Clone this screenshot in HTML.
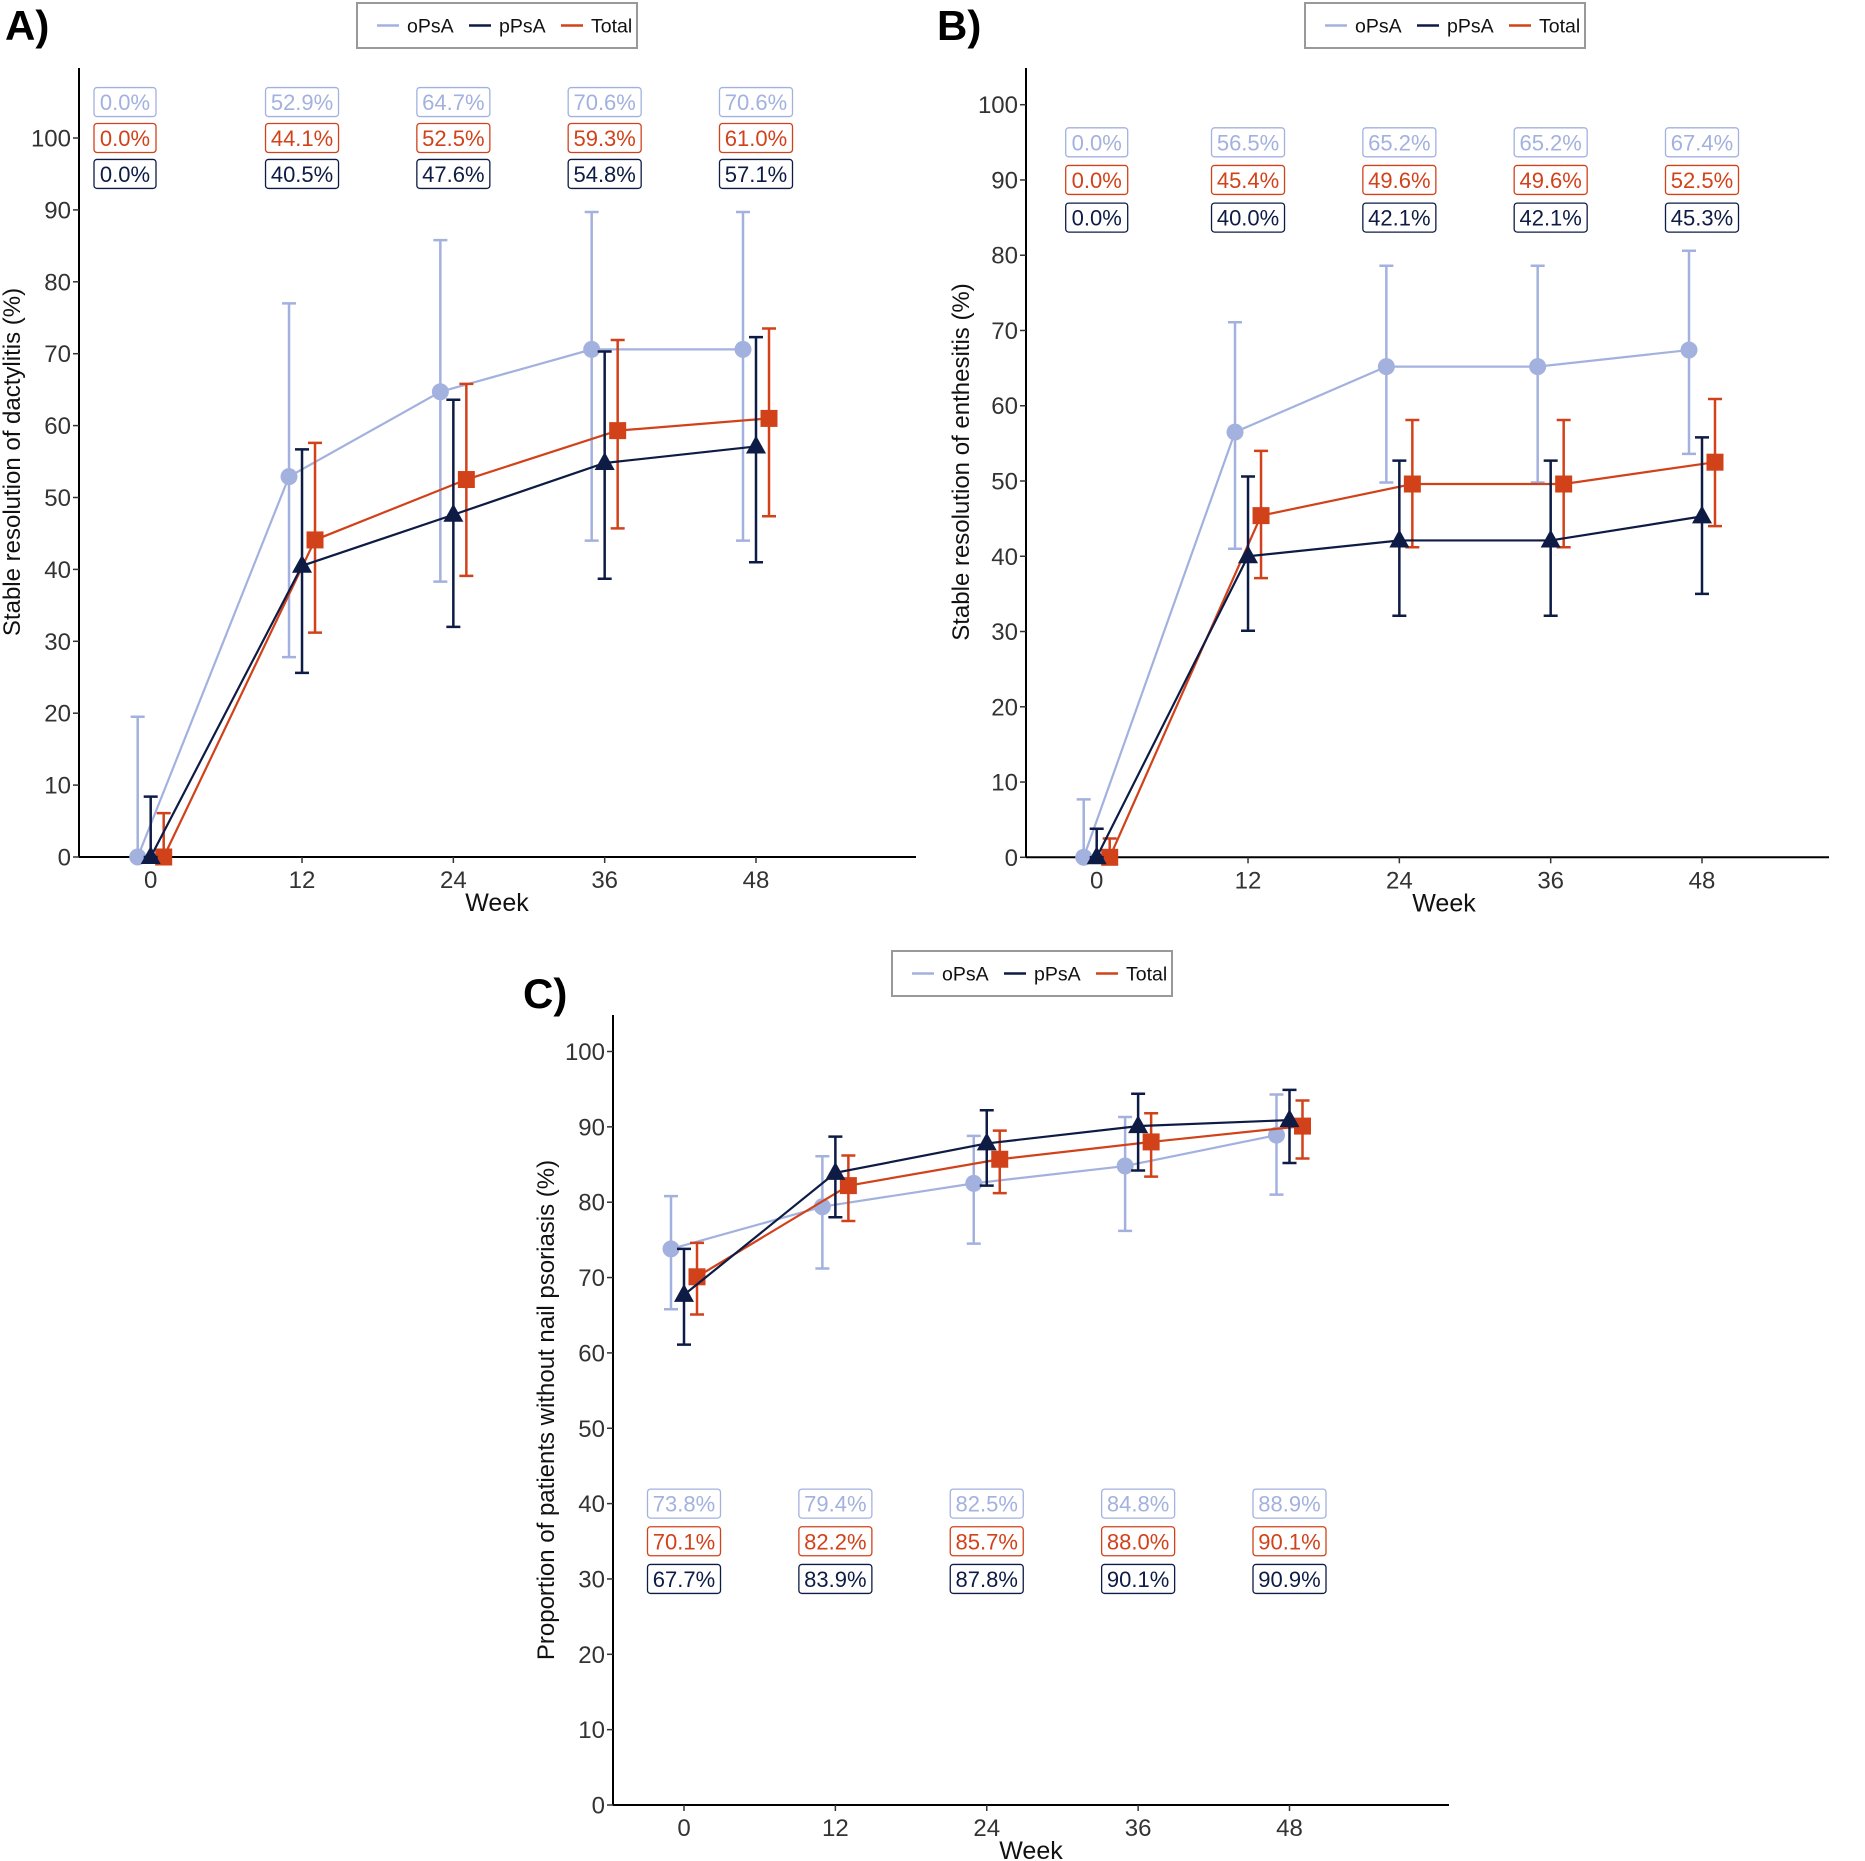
<!DOCTYPE html>
<html><head><meta charset="utf-8"><style>
body{margin:0;background:#fff}
svg{display:block;font-family:"Liberation Sans",Arial,sans-serif}
</style></head><body>
<svg id="chart" width="1865" height="1861" viewBox="0 0 1865 1861" xmlns="http://www.w3.org/2000/svg"></svg>
<script>
const weeks = [0, 12, 24, 36, 48];
const yTicks = [0, 10, 20, 30, 40, 50, 60, 70, 80, 90, 100];
const seriesNames = ["oPsA", "pPsA", "Total"];

const aO = [0, 52.9, 64.7, 70.6, 70.6];
const aOLo = [0, 27.8, 38.3, 44.0, 44.0];
const aOHi = [19.5, 77.0, 85.8, 89.7, 89.7];
const aP = [0, 40.5, 47.6, 54.8, 57.1];
const aPLo = [0, 25.6, 32.0, 38.7, 41.0];
const aPHi = [8.4, 56.7, 63.6, 70.3, 72.3];
const aT = [0, 44.1, 52.5, 59.3, 61.0];
const aTLo = [0, 31.2, 39.1, 45.7, 47.4];
const aTHi = [6.1, 57.6, 65.8, 71.9, 73.5];

const bO = [0, 56.5, 65.2, 65.2, 67.4];
const bOLo = [0, 41.0, 49.8, 49.8, 53.6];
const bOHi = [7.7, 71.1, 78.6, 78.6, 80.6];
const bP = [0, 40.0, 42.1, 42.1, 45.3];
const bPLo = [0, 30.1, 32.1, 32.1, 35.0];
const bPHi = [3.8, 50.6, 52.7, 52.7, 55.8];
const bT = [0, 45.4, 49.6, 49.6, 52.5];
const bTLo = [0, 37.1, 41.2, 41.2, 44.0];
const bTHi = [2.5, 54.0, 58.1, 58.1, 60.9];

const cO = [73.8, 79.4, 82.5, 84.8, 88.9];
const cOLo = [65.8, 71.2, 74.5, 76.2, 81.0];
const cOHi = [80.8, 86.1, 88.8, 91.3, 94.3];
const cP = [67.7, 83.9, 87.8, 90.1, 90.9];
const cPLo = [61.1, 78.0, 82.2, 84.2, 85.2];
const cPHi = [73.8, 88.7, 92.2, 94.4, 94.9];
const cT = [70.1, 82.2, 85.7, 88.0, 90.1];
const cTLo = [65.1, 77.5, 81.2, 83.4, 85.8];
const cTHi = [74.6, 86.2, 89.5, 91.8, 93.5];

const aLabelRows = [105, 100, 95];
const bLabelRows = [95, 90, 85];
const cLabelRows = [40, 35, 30];

const COL = {oPsA: "#a3b1df", pPsA: "#0d1b45", Total: "#d2421a"};
const NS = "http://www.w3.org/2000/svg";
const svg = document.getElementById("chart");
function mk(tag, attrs, parent, text) {
  const e = document.createElementNS(NS, tag);
  for (const k in attrs) e.setAttribute(k, attrs[k]);
  if (text !== undefined) e.textContent = text;
  (parent || svg).appendChild(e);
  return e;
}

function panel(cfg) {
  const g = mk("g", {});
  
  
  const xs = w => cfg.x0 + (cfg.x48 - cfg.x0) * w / 48;
  const ys = v => cfg.y0 - (cfg.y0 - cfg.y100) * v / 100;
  const lt = mk("text", {x: cfg.letterX, y: cfg.letterY, "font-size": 42, "font-weight": "bold", fill: "#000"}, g, cfg.letter);
  
  
  const lg = mk("g", {}, g);
  
  
  mk("rect", {x: cfg.legX, y: cfg.legY, width: 280, height: 45, fill: "#fff", stroke: "#999", "stroke-width": 2}, lg);
  const legOff = [[20, 50], [112, 142], [204, 234]];
  seriesNames.forEach((n, i) => {
    const en = mk("g", {}, lg);
    
    
    mk("line", {x1: cfg.legX + legOff[i][0], x2: cfg.legX + legOff[i][0] + 22, y1: cfg.legY + 22.5, y2: cfg.legY + 22.5, stroke: COL[n], "stroke-width": 2.5}, en);
    mk("text", {x: cfg.legX + legOff[i][1], y: cfg.legY + 29.5, "font-size": 19.5, fill: "#111"}, en, n);
  });
  const ax = mk("g", {}, g);
  
  
  mk("line", {x1: cfg.ax, x2: cfg.ax, y1: cfg.top, y2: cfg.y0, stroke: "#000", "stroke-width": 2}, ax);
  mk("line", {x1: cfg.ax, x2: cfg.right, y1: cfg.y0, y2: cfg.y0, stroke: "#000", "stroke-width": 2}, ax);
  yTicks.forEach(t => {
    const y = ys(t);
    mk("line", {x1: cfg.ax - 6, x2: cfg.ax, y1: y, y2: y, stroke: "#333", "stroke-width": 1.5}, ax);
    const tl = mk("text", {x: cfg.ax - 8, y: y + 8.5, "font-size": 24, fill: "#333", "text-anchor": "end"}, ax, String(t));
    
    
  });
  weeks.forEach(w => {
    const x = xs(w);
    mk("line", {x1: x, x2: x, y1: cfg.y0, y2: cfg.y0 + 6, stroke: "#333", "stroke-width": 1.5}, ax);
    const tl = mk("text", {x: x, y: cfg.y0 + 31, "font-size": 24, fill: "#333", "text-anchor": "middle"}, ax, String(w));
    
    
  });
  const xt = mk("text", {x: cfg.weekX, y: cfg.y0 + 54, "font-size": 25, fill: "#111", "text-anchor": "middle"}, ax, "Week");
  
  
  const yt = mk("text", {x: 0, y: 0, "font-size": 24, fill: "#111", "text-anchor": "middle", transform: `translate(${cfg.ytX},${cfg.ytY}) rotate(-90)`}, ax, cfg.yTitle);
  
  

  const offs = {oPsA: -13, pPsA: 0, Total: 13};
  const order = ["oPsA", "Total", "pPsA"];
  order.forEach(n => {
    const s = cfg.series[n];
    const dx = offs[n];
    const sg = mk("g", {}, g);
    
    
    const pts = weeks.map((w, i) => (xs(w) + dx) + "," + ys(s.v[i])).join(" ");
    mk("polyline", {points: pts, fill: "none", stroke: COL[n], "stroke-width": 2.2}, sg);
    weeks.forEach((w, i) => {
      const x = xs(w) + dx, lo = ys(s.lo[i]), hi = ys(s.hi[i]);
      const eb = mk("path", {d: `M${x},${lo}V${hi}M${x - 7},${hi}H${x + 7}M${x - 7},${lo}H${x + 7}`, stroke: COL[n], "stroke-width": 2.5, fill: "none"}, sg);
      
      
      const y = ys(s.v[i]);
      let m;
      if (n === "oPsA") m = mk("circle", {cx: x, cy: y, r: 8.5, fill: COL[n]}, sg);
      else if (n === "Total") m = mk("rect", {x: x - 8.5, y: y - 8.5, width: 17, height: 17, fill: COL[n]}, sg);
      else m = mk("path", {d: `M${x},${y - 11}L${x + 10},${y + 7}L${x - 10},${y + 7}Z`, fill: COL[n]}, sg);
      
      
    });
  });
  const lblOrder = ["oPsA", "Total", "pPsA"];
  lblOrder.forEach((n, r) => {
    const s = cfg.series[n];
    weeks.forEach((w, i) => {
      const txt = s.v[i].toFixed(1) + "%";
      const wdt = txt.length === 4 ? 62 : 73;
      let cx = xs(w);
      if (i === 0 && cfg.firstLabelX) cx = cfg.firstLabelX;
      const cy = ys(cfg.rows[r]);
      const lg2 = mk("g", {}, g);
      
      
      mk("rect", {x: cx - wdt / 2, y: cy - 14.5, width: wdt, height: 29, rx: 3, fill: "#fff", stroke: COL[n], "stroke-width": 1.3}, lg2);
      mk("text", {x: cx, y: cy + 8, "font-size": 22, fill: COL[n], "text-anchor": "middle"}, lg2, txt);
    });
  });
}

panel({id: "panel-a-dactylitis", letter: "A)", letterX: 5, letterY: 40, legX: 357, legY: 3,
  ax: 79, right: 916, top: 68, y0: 857, y100: 138, x0: 150.7, x48: 756, firstLabelX: 125, weekX: 497,
  ytX: 20, ytY: 462, yTitle: "Stable resolution of dactylitis (%)", rows: aLabelRows,
  series: {oPsA: {v: aO, lo: aOLo, hi: aOHi}, pPsA: {v: aP, lo: aPLo, hi: aPHi}, Total: {v: aT, lo: aTLo, hi: aTHi}}});
panel({id: "panel-b-enthesitis", letter: "B)", letterX: 937, letterY: 40, legX: 1305, legY: 3,
  ax: 1026, right: 1829, top: 68, y0: 857.3, y100: 104.7, x0: 1096.7, x48: 1702, weekX: 1444,
  ytX: 969, ytY: 462, yTitle: "Stable resolution of enthesitis (%)", rows: bLabelRows,
  series: {oPsA: {v: bO, lo: bOLo, hi: bOHi}, pPsA: {v: bP, lo: bPLo, hi: bPHi}, Total: {v: bT, lo: bTLo, hi: bTHi}}});
panel({id: "panel-c-nail-psoriasis", letter: "C)", letterX: 523, letterY: 1008, legX: 892, legY: 951,
  ax: 613, right: 1449, top: 1015, y0: 1805, y100: 1051.5, x0: 684, x48: 1289.5, weekX: 1031,
  ytX: 554, ytY: 1410, yTitle: "Proportion of patients without nail psoriasis (%)", rows: cLabelRows,
  series: {oPsA: {v: cO, lo: cOLo, hi: cOHi}, pPsA: {v: cP, lo: cPLo, hi: cPHi}, Total: {v: cT, lo: cTLo, hi: cTHi}}});
</script>
</body></html>
